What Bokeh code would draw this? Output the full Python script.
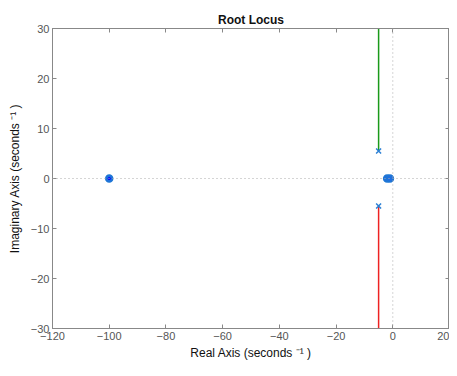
from bokeh.plotting import figure
from bokeh.models import LinearAxis, Span, Range1d, FixedTicker
from bokeh.embed import file_html
from bokeh.resources import INLINE

# data
pole_re = [-5, -5]
pole_im = [5.5, -5.5]
zero_re = [-100, -2, -1]
zero_im = [0, 0, 0]
branch_up_x = [-5, -5]
branch_up_y = [5.5, 30]
branch_dn_x = [-5, -5]
branch_dn_y = [-5.5, -30]
x_ticks = [-120, -100, -80, -60, -40, -20, 0, 20]
y_ticks = [-30, -20, -10, 0, 10, 20, 30]

p = figure(width=449, height=368, output_backend="svg", toolbar_location=None,
           x_range=Range1d(-120, 20), y_range=Range1d(-30, 30),
           title="Root Locus", min_border_left=52, min_border_right=0,
           min_border_top=28, min_border_bottom=40,
           x_axis_label="Real Axis (seconds \u207b\u00b9 )",
           y_axis_label="Imaginary Axis (seconds \u207b\u00b9 )")
p.title.align = "center"
p.title.text_font = "Liberation Sans"
p.title.text_font_size = "12px"
p.title.text_font_style = "bold"
p.title.text_color = "#111111"
p.title.standoff = 4
p.xgrid.visible = False
p.ygrid.visible = False
p.outline_line_color = "#888888"
p.background_fill_color = "white"
p.border_fill_color = "white"

for ax in [p.xaxis[0], p.yaxis[0]]:
    ax.major_tick_in = 4
    ax.major_tick_out = 0
    ax.minor_tick_line_color = None
    ax.axis_line_color = "#888888"
    ax.major_tick_line_color = "#888888"
    ax.major_label_text_font = "Liberation Sans"
    ax.major_label_text_font_size = "11px"
    ax.major_label_text_color = "#555555"
    ax.axis_label_text_font = "Liberation Sans"
    ax.axis_label_text_font_size = "12px"
    ax.axis_label_text_font_style = "normal"
    ax.axis_label_text_color = "#111111"
p.xaxis[0].ticker = FixedTicker(ticks=x_ticks)
p.yaxis[0].ticker = FixedTicker(ticks=y_ticks)
p.xaxis[0].axis_label_standoff = 3
p.yaxis[0].axis_label_standoff = 6
p.xaxis[0].major_label_standoff = 3
p.yaxis[0].major_label_standoff = 3

top = LinearAxis(ticker=FixedTicker(ticks=x_ticks),
                 major_label_overrides={t: "" for t in x_ticks},
                 major_tick_in=4, major_tick_out=0, minor_tick_line_color=None,
                 axis_line_color="#888888", major_tick_line_color="#888888")
right = LinearAxis(ticker=FixedTicker(ticks=y_ticks),
                   major_label_overrides={t: "" for t in y_ticks},
                   major_tick_in=4, major_tick_out=0, minor_tick_line_color=None,
                   axis_line_color="#888888", major_tick_line_color="#888888")
top.major_label_standoff = 0
right.major_label_standoff = 0
p.add_layout(top, "above")
p.add_layout(right, "right")

p.add_layout(Span(location=0, dimension="width", line_color="#aaaaaa", line_dash="1 3", line_width=1))
p.add_layout(Span(location=0, dimension="height", line_color="#aaaaaa", line_dash="1 3", line_width=1))

p.line(branch_up_x, branch_up_y, line_color="#1a9a1a", line_width=1.5)
p.line(branch_dn_x, branch_dn_y, line_color="#ee2222", line_width=1.5)
p.scatter(pole_re, pole_im, marker="x", size=7, line_color="#2a7fd4", line_width=1.5)
p.scatter(zero_re, zero_im, marker="circle", size=7, line_color="#1f77d4",
          fill_color="#1f6fe0", line_width=1.5)
p.scatter([-100], [0], marker="circle", size=3, fill_color="#0000ff", line_color=None)

open("out.html", "w").write(file_html(p, INLINE))
